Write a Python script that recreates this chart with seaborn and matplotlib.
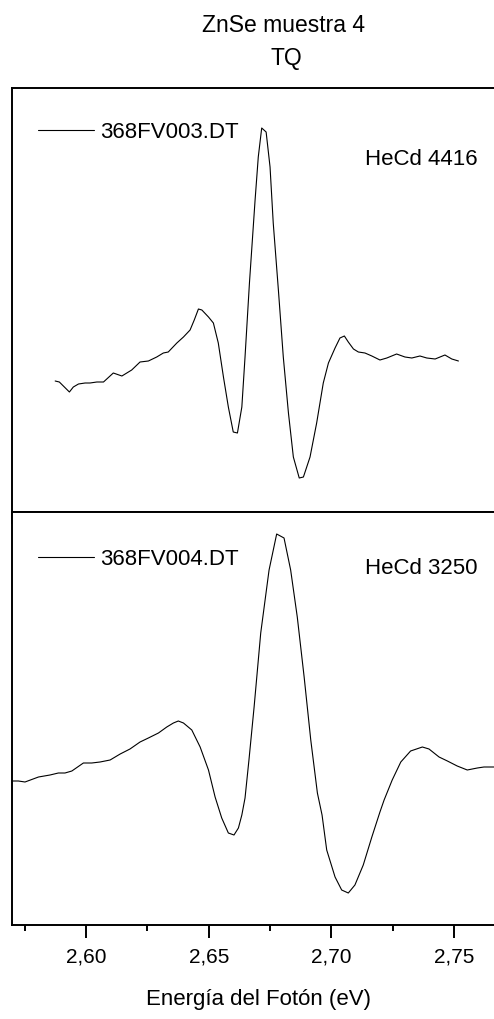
import numpy as np
import pandas as pd
import matplotlib
matplotlib.use("Agg")
import matplotlib.pyplot as plt
from matplotlib.ticker import MultipleLocator, FixedLocator, FuncFormatter, NullFormatter
import seaborn as sns

# Photoreflectance spectra of ZnSe sample 4 (arbitrary units)
E_TOP = [2.5874, 2.5891, 2.5932, 2.5948, 2.5969, 2.5996, 2.6016, 2.6044, 2.6071,
         2.6111, 2.6146, 2.6186, 2.6220, 2.6254, 2.6288, 2.6315, 2.6335, 2.6370,
         2.6397, 2.6424, 2.6441, 2.6458, 2.6472, 2.6499, 2.6519, 2.6539, 2.6560,
         2.6580, 2.6600, 2.6617, 2.6635, 2.6648, 2.6666, 2.6689, 2.6702, 2.6716,
         2.6734, 2.6750, 2.6763, 2.6784, 2.6804, 2.6825, 2.6845, 2.6869, 2.6886,
         2.6913, 2.6940, 2.6967, 2.6988, 2.7015, 2.7035, 2.7053, 2.7069, 2.7090,
         2.7110, 2.7137, 2.7165, 2.7198, 2.7226, 2.7266, 2.7300, 2.7328, 2.7361,
         2.7389, 2.7423, 2.7463, 2.7491, 2.7518]
SIG_TOP = [1.31, 1.30, 1.20, 1.25, 1.28, 1.29, 1.29, 1.30, 1.30,
           1.39, 1.36, 1.42, 1.50, 1.51, 1.55, 1.59, 1.60, 1.69,
           1.75, 1.82, 1.92, 2.03, 2.02, 1.95, 1.89, 1.69, 1.35,
           1.05, 0.80, 0.79, 1.05, 1.55, 2.29, 3.12, 3.55, 3.84,
           3.80, 3.45, 2.89, 2.22, 1.55, 0.99, 0.55, 0.34, 0.35,
           0.55, 0.89, 1.29, 1.49, 1.64, 1.74, 1.76, 1.70, 1.63,
           1.60, 1.59, 1.56, 1.52, 1.54, 1.58, 1.55, 1.54, 1.56,
           1.54, 1.53, 1.57, 1.53, 1.51]

E_BOT = [2.5700, 2.5724, 2.5751, 2.5806, 2.5853, 2.5887, 2.5914, 2.5942, 2.5989,
         2.6023, 2.6057, 2.6098, 2.6139, 2.6179, 2.6220, 2.6254, 2.6295, 2.6329,
         2.6356, 2.6376, 2.6397, 2.6431, 2.6465, 2.6499, 2.6526, 2.6553, 2.6580,
         2.6603, 2.6621, 2.6635, 2.6648, 2.6664, 2.6685, 2.6712, 2.6746, 2.6777,
         2.6807, 2.6834, 2.6861, 2.6889, 2.6916, 2.6943, 2.6962, 2.6981, 2.7015,
         2.7042, 2.7069, 2.7096, 2.7130, 2.7165, 2.7198, 2.7215, 2.7248, 2.7283,
         2.7323, 2.7371, 2.7398, 2.7439, 2.7473, 2.7513, 2.7554, 2.7595, 2.7622,
         2.7663]
SIG_BOT = [1.44, 1.44, 1.43, 1.48, 1.50, 1.52, 1.52, 1.54, 1.62,
           1.62, 1.63, 1.65, 1.71, 1.76, 1.83, 1.87, 1.92, 1.98,
           2.02, 2.04, 2.02, 1.95, 1.78, 1.55, 1.28, 1.07, 0.92,
           0.90, 0.97, 1.10, 1.27, 1.65, 2.18, 2.92, 3.55, 3.91,
           3.87, 3.55, 3.08, 2.48, 1.85, 1.32, 1.10, 0.75, 0.48,
           0.35, 0.32, 0.40, 0.60, 0.88, 1.13, 1.25, 1.45, 1.63,
           1.74, 1.78, 1.76, 1.68, 1.64, 1.59, 1.55, 1.57, 1.58,
           1.58]

FILE_TOP = "368FV003.DT"
FILE_BOT = "368FV004.DT"
LASER_TOP = "HeCd 4416"
LASER_BOT = "HeCd 3250"
TITLE_1 = "ZnSe muestra 4"
TITLE_2 = "TQ"
XLABEL = "Energía del Fotón (eV)"

E_MIN, E_MAX = 2.5698, 2.7663

sns.set_style("white")
plt.rcParams["font.family"] = ["Liberation Sans", "DejaVu Sans"]
plt.rcParams["text.color"] = "black"
plt.rcParams["xtick.color"] = "black"
plt.rcParams["axes.labelcolor"] = "black"

W, H = 494, 1019
fig = plt.figure(figsize=(W / 100, H / 100), dpi=100)

ax_top = fig.add_axes([12 / W, 1 - 512 / H, 482 / W, 424 / H])
ax_bot = fig.add_axes([12 / W, 1 - 925 / H, 482 / W, 413 / H])

df_top = pd.DataFrame({"E": E_TOP, "S": SIG_TOP})
df_bot = pd.DataFrame({"E": E_BOT, "S": SIG_BOT})

sns.lineplot(data=df_top, x="E", y="S", ax=ax_top, color="black", lw=0.8,
             estimator=None, label=FILE_TOP)
sns.lineplot(data=df_bot, x="E", y="S", ax=ax_bot, color="black", lw=0.8,
             estimator=None, label=FILE_BOT)

for ax in (ax_top, ax_bot):
    ax.set_xlim(E_MIN, E_MAX)
    ax.set_ylabel("")
    ax.set_xlabel("")
    ax.set_yticks([])
    ax.spines["right"].set_visible(False)
    for side in ("left", "top", "bottom"):
        ax.spines[side].set_linewidth(1.4)
        ax.spines[side].set_color("black")

ax_top.set_ylim(0, 4.24)
ax_bot.set_ylim(0, 4.13)

# Upper panel: unlabelled tick scale along its lower edge
step = 0.02853
ax_top.xaxis.set_major_locator(FixedLocator(np.arange(E_MIN, E_MAX, step)))
ax_top.xaxis.set_minor_locator(FixedLocator(np.arange(E_MIN + step / 2, E_MAX, step)))
ax_top.xaxis.set_major_formatter(NullFormatter())
ax_top.tick_params(axis="x", which="major", direction="out", length=8.6, width=1.4,
                   color="black", bottom=True)
ax_top.tick_params(axis="x", which="minor", direction="out", length=4.3, width=1.4,
                   color="black", bottom=True)

# Lower panel: energy scale with decimal comma
ax_bot.xaxis.set_major_locator(MultipleLocator(0.05))
ax_bot.xaxis.set_minor_locator(MultipleLocator(0.025))
ax_bot.xaxis.set_major_formatter(FuncFormatter(lambda v, p: f"{v:.2f}".replace(".", ",")))
ax_bot.tick_params(axis="x", which="major", direction="out", length=9.4, width=1.4,
                   color="black", bottom=True, labelsize=15, pad=7)
ax_bot.tick_params(axis="x", which="minor", direction="out", length=4.3, width=1.4,
                   color="black", bottom=True)
ax_bot.set_xlabel(XLABEL, fontsize=16)
ax_bot.xaxis.set_label_coords(0.512, -0.1937)
ax_bot.xaxis.label.set_va("baseline")

for ax, yc in ((ax_top, 0.896), (ax_bot, 0.886)):
    ax.legend(loc="center left", bbox_to_anchor=(0.0539, yc), frameon=False,
              fontsize=16, handlelength=2.5, handletextpad=0.3, borderpad=0,
              borderaxespad=0)

ax_top.text(0.965, 0.818, LASER_TOP, transform=ax_top.transAxes, fontsize=16,
            va="baseline", ha="right")
ax_bot.text(0.965, 0.850, LASER_BOT, transform=ax_bot.transAxes, fontsize=16,
            va="baseline", ha="right")

fig.text(283 / W, 1 - 32 / H, TITLE_1, fontsize=16.5, ha="center", va="baseline")
fig.text(286 / W, 1 - 65 / H, TITLE_2, fontsize=16.5, ha="center", va="baseline")

fig.savefig("out.png", dpi=100, facecolor="white")
